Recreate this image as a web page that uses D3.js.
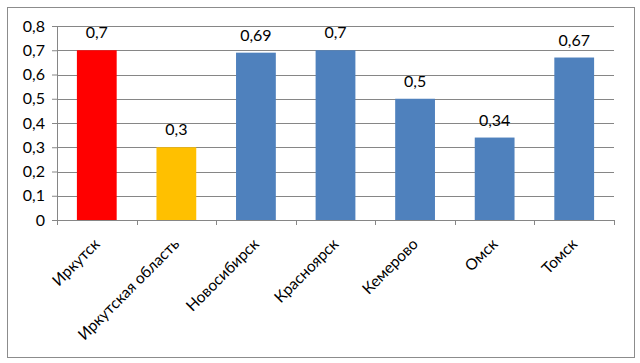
<!DOCTYPE html>
<html>
<head>
<meta charset="utf-8">
<script src="https://cdn.jsdelivr.net/npm/d3@7"></script>
<style>
  body { margin: 0; background: #fff; }
  text { font-family: Lato, "Open Sans", sans-serif; fill: #000; }
</style>
</head>
<body>
<script>
// Данные
const cities = ["Иркутск", "Иркутская область", "Новосибирск", "Красноярск", "Кемерово", "Омск", "Томск"];
const values = [0.7, 0.3, 0.69, 0.7, 0.5, 0.34, 0.67];
const barColors = ["#FF0000", "#FFC000", "#4F81BD", "#4F81BD", "#4F81BD", "#4F81BD", "#4F81BD"];
const yTicks = [0, 0.1, 0.2, 0.3, 0.4, 0.5, 0.6, 0.7, 0.8];

const W = 640, H = 363;
const margin = {top: 26, right: 26, bottom: 143, left: 57};
const width = W - margin.left - margin.right;
const height = H - margin.top - margin.bottom;

const fmt = d => String(d).replace(".", ",");

const svg = d3.select("body").append("svg")
    .attr("width", W)
    .attr("height", H);

// Рамка
svg.append("rect")
    .attr("x", 7.5).attr("y", 7.5)
    .attr("width", 627).attr("height", 350)
    .attr("fill", "#fff")
    .attr("stroke", "#8c8c8c");

const g = svg.append("g")
    .attr("transform", `translate(${margin.left},${margin.top})`);

const x = d3.scaleBand()
    .domain(cities)
    .range([0, width])
    .paddingInner(0.5)
    .paddingOuter(0.25);

const y = d3.scaleLinear()
    .domain([0, 0.8])
    .range([height, 0]);

// Линии сетки
g.selectAll("line.grid")
    .data(yTicks.slice(1))
    .enter().append("line")
    .attr("class", "grid")
    .attr("x1", 0).attr("x2", width)
    .attr("y1", d => Math.round(y(d)) + 0.5)
    .attr("y2", d => Math.round(y(d)) + 0.5)
    .attr("stroke", "#868686");

// Столбцы
g.selectAll("rect.bar")
    .data(values)
    .enter().append("rect")
    .attr("class", "bar")
    .attr("x", (d, i) => x(cities[i]))
    .attr("width", x.bandwidth())
    .attr("y", d => y(d))
    .attr("height", d => height - y(d))
    .attr("fill", (d, i) => barColors[i]);

// Подписи значений
g.selectAll("text.val")
    .data(values)
    .enter().append("text")
    .attr("class", "val")
    .attr("x", (d, i) => x(cities[i]) + x.bandwidth() / 2)
    .attr("y", d => y(d) - 12)
    .attr("text-anchor", "middle")
    .style("font-size", "16px")
    .text(d => fmt(d));

// Ось Y
const yAxis = g.append("g")
    .call(d3.axisLeft(y).tickValues(yTicks).tickSize(5).tickPadding(7).tickFormat(fmt));
yAxis.select(".domain").attr("stroke", "#868686");
yAxis.selectAll(".tick line").attr("stroke", "#868686");
yAxis.selectAll("text").style("font-size", "16px").style("font-family", "Lato, sans-serif");

// Ось X
const step = x.step();
const xAxis = g.append("g")
    .attr("transform", `translate(0,${height})`);
xAxis.append("line")
    .attr("x1", 0).attr("x2", width)
    .attr("y1", 0.5).attr("y2", 0.5)
    .attr("stroke", "#868686");
xAxis.selectAll("line.tk")
    .data(d3.range(cities.length + 1))
    .enter().append("line")
    .attr("class", "tk")
    .attr("x1", i => Math.round(i * step) + 0.5)
    .attr("x2", i => Math.round(i * step) + 0.5)
    .attr("y1", 0).attr("y2", 5)
    .attr("stroke", "#868686");
xAxis.selectAll("text")
    .data(cities)
    .enter().append("text")
    .attr("text-anchor", "end")
    .attr("transform", d => `translate(${x(d) + x.bandwidth() / 2 + 4},${25}) rotate(-45)`)
    .style("font-size", "15.5px")
    .text(d => d);
</script>
</body>
</html>
